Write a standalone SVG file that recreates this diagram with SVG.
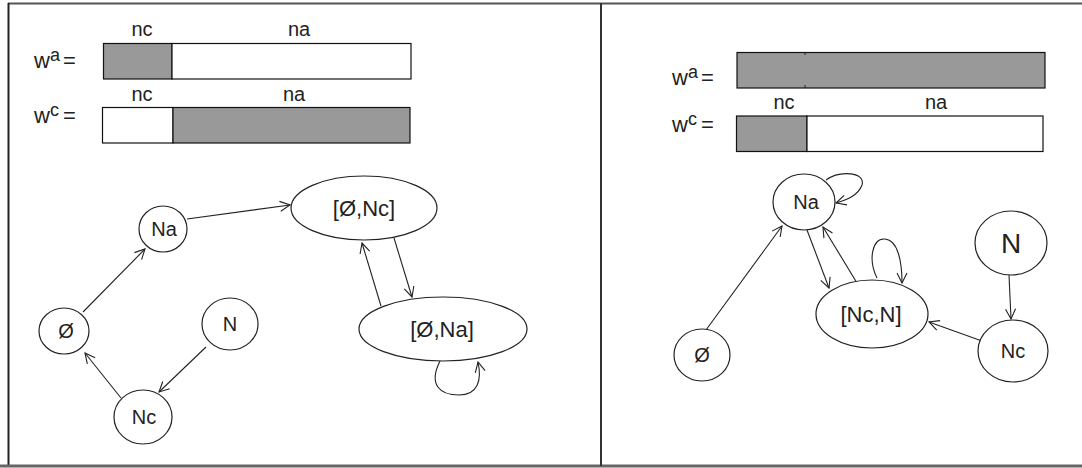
<svg xmlns="http://www.w3.org/2000/svg" width="1082" height="468" viewBox="0 0 1082 468">
<defs>
<style>
.t{font-family:"Liberation Sans",Arial,sans-serif;fill:#222;}
.lbl{font-size:20px;text-anchor:middle;}
.big{font-size:28px;}
.md{font-size:22px;}
.nd{fill:#fff;stroke:#222;stroke-width:1.2;}
.bar{stroke:#111;stroke-width:1.2;}
.g{fill:#999;}
.w{fill:#fff;}
.e{fill:none;stroke:#222;stroke-width:1.1;marker-end:url(#ah);}
.frame{stroke:#555;fill:none;}
</style>
<marker id="ah" viewBox="0 0 12 12" refX="11" refY="6" markerWidth="12" markerHeight="12" markerUnits="userSpaceOnUse" orient="auto">
<path d="M1,1 L11,6 L1,11" fill="none" stroke="#222" stroke-width="1.1"/>
</marker>
</defs>
<rect width="1082" height="468" fill="#fff"/>
<g id="frame">
<line class="frame" x1="8" y1="3.5" x2="1082" y2="3.5" stroke-width="2"/>
<line class="frame" x1="8.5" y1="3" x2="8.5" y2="467" stroke-width="2" style="stroke:#222"/>
<line class="frame" x1="0" y1="466" x2="1082" y2="466" stroke-width="3" style="stroke:#666"/>
<line class="frame" x1="601" y1="3" x2="601" y2="466" stroke-width="2" style="stroke:#333"/>
</g>
<g id="left-weights">
<text class="t lbl" x="142" y="36">nc</text>
<text class="t lbl" x="299" y="36">na</text>
<text class="t" x="34" y="68" font-size="22">w<tspan font-size="18" dy="-7">a</tspan><tspan dy="7" dx="3">=</tspan></text>
<rect class="bar g" x="103.5" y="43.5" width="68.5" height="35.5"/>
<rect class="bar w" x="172" y="43.5" width="239" height="35.5"/>
<text class="t lbl" x="142" y="101">nc</text>
<text class="t lbl" x="294" y="101">na</text>
<text class="t" x="34" y="123" font-size="22">w<tspan font-size="18" dy="-7">c</tspan><tspan dy="7" dx="4">=</tspan></text>
<rect class="bar w" x="102.5" y="107.5" width="70.5" height="35.5"/>
<rect class="bar g" x="173" y="107.5" width="237" height="35.5"/>
</g>
<g id="right-weights">
<text class="t" x="672" y="85" font-size="22">w<tspan font-size="18" dy="-7">a</tspan><tspan dy="7" dx="3">=</tspan></text>
<rect class="bar g" x="737" y="52.5" width="308" height="35.5"/>
<line x1="805" y1="52" x2="805" y2="55" stroke="#222"/>
<line x1="805" y1="85" x2="805" y2="88" stroke="#222"/>
<text class="t lbl" x="784" y="109">nc</text>
<text class="t lbl" x="936" y="109">na</text>
<text class="t" x="672" y="132" font-size="22">w<tspan font-size="18" dy="-7">c</tspan><tspan dy="7" dx="4">=</tspan></text>
<rect class="bar g" x="736.5" y="116" width="70.5" height="35.5"/>
<rect class="bar w" x="807" y="116" width="236" height="35.5"/>
</g>
<g id="edges">
<line class="e" x1="83" y1="312" x2="145" y2="249"/>
<line class="e" x1="187" y1="219" x2="290" y2="205"/>
<line class="e" x1="394" y1="238" x2="412" y2="297"/>
<line class="e" x1="381" y1="306" x2="362" y2="243"/>
<line class="e" x1="206" y1="347" x2="159" y2="392"/>
<line class="e" x1="121" y1="398" x2="85" y2="353"/>
<path class="e" d="M440,361 C428,385 440,395 459,395 C478,395 482,380 478,362"/>
<line class="e" x1="706" y1="330" x2="782" y2="226"/>
<line class="e" x1="807" y1="230" x2="829" y2="288"/>
<line class="e" x1="857" y1="283" x2="823" y2="227"/>
<path class="e" d="M826,180 C840,170 866,172 862,185 C858,196 846,200 836,203"/>
<path class="e" d="M877,278 C868,260 872,238 885,239 C898,240 902,262 902,283"/>
<line class="e" x1="1009" y1="275" x2="1011" y2="319"/>
<line class="e" x1="982" y1="341" x2="929" y2="322"/>
</g>
<g id="L-Na"><ellipse class="nd" cx="163" cy="229" rx="24" ry="23"/><text class="t lbl" x="164" y="236">Na</text></g>
<g id="L-empty"><ellipse class="nd" cx="64" cy="331" rx="25" ry="23"/><text class="t lbl" x="66" y="338">Ø</text></g>
<g id="L-N"><ellipse class="nd" cx="230" cy="324" rx="28" ry="26"/><text class="t lbl" x="230" y="331">N</text></g>
<g id="L-Nc"><ellipse class="nd" cx="143" cy="417" rx="29" ry="27"/><text class="t lbl" x="144" y="424">Nc</text></g>
<g id="L-emptyNc"><ellipse class="nd" cx="364" cy="208" rx="73" ry="32"/><text class="t lbl md" x="364" y="216">[Ø,Nc]</text></g>
<g id="L-emptyNa"><ellipse class="nd" cx="443" cy="329" rx="84" ry="32"/><text class="t lbl md" x="442" y="337">[Ø,Na]</text></g>
<g id="R-Na"><ellipse class="nd" cx="804" cy="202" rx="31" ry="28"/><text class="t lbl" x="806" y="209">Na</text></g>
<g id="R-empty"><ellipse class="nd" cx="702" cy="355" rx="28" ry="26"/><text class="t lbl" x="702" y="362">Ø</text></g>
<g id="R-NcN"><ellipse class="nd" cx="872" cy="314" rx="56" ry="34"/><text class="t lbl md" x="871" y="322">[Nc,N]</text></g>
<g id="R-N"><ellipse class="nd" cx="1011" cy="243" rx="36" ry="32"/><text class="t lbl big" x="1011" y="253">N</text></g>
<g id="R-Nc"><ellipse class="nd" cx="1013" cy="351" rx="35" ry="31"/><text class="t lbl" x="1013" y="358">Nc</text></g>
</svg>
